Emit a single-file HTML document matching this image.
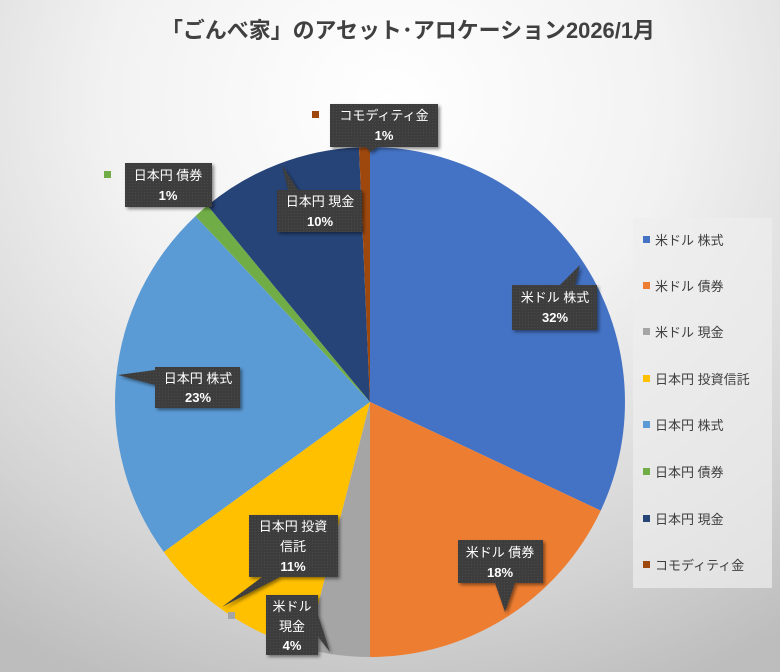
<!DOCTYPE html>
<html><head><meta charset="utf-8"><style>
body{margin:0}
.w{width:780px;height:672px;position:relative;overflow:hidden;font-family:"Liberation Sans","Noto Sans CJK JP",sans-serif;
background:radial-gradient(ellipse 90% 95% at 50% 15%,#ffffff 0%,#f2f2f2 40%,#d4d4d4 78%,#bdbdbd 100%)}
text{font-family:"Liberation Sans","Noto Sans CJK JP",sans-serif}
</style></head><body><div class="w">
<svg width="780" height="672" viewBox="0 0 780 672">
<defs>
<pattern id="dots" width="3" height="3" patternUnits="userSpaceOnUse"><rect width="3" height="3" fill="#3d3d3d"/><rect width="1" height="1" fill="#4a4a4a"/></pattern>
<filter id="sh" x="-20%" y="-20%" width="150%" height="150%"><feDropShadow dx="2" dy="2" stdDeviation="1.5" flood-opacity="0.45"/></filter>
</defs>
<text x="408" y="38" text-anchor="middle" font-size="22" font-weight="bold" fill="#404040" textLength="494" lengthAdjust="spacingAndGlyphs">「ごんべ家」のアセット･アロケーション2026/1月</text>
<g stroke="none">
<path d="M370,402 L370,147 A255,255 0 0 1 600.7,510.6 Z" fill="#4472c4"/>
<path d="M370,402 L600.7,510.6 A255,255 0 0 1 370,657 Z" fill="#ed7d31"/>
<path d="M370,402 L370,657 A255,255 0 0 1 306.6,649 Z" fill="#a5a5a5"/>
<path d="M370,402 L306.6,649 A255,255 0 0 1 163.7,551.9 Z" fill="#ffc000"/>
<path d="M370,402 L163.7,551.9 A255,255 0 0 1 195.5,216.1 Z" fill="#5b9bd5"/>
<path d="M370,402 L195.5,216.1 A255,255 0 0 1 207.5,205.5 Z" fill="#70ad47"/>
<path d="M370,402 L207.5,205.5 A255,255 0 0 1 359,147.2 Z" fill="#264478"/>
<path d="M370,402 L359,147.2 A255,255 0 0 1 370,147 Z" fill="#9e480e"/>
</g>
<rect x="312" y="111" width="7" height="7" fill="#9e480e"/>
<rect x="104" y="171" width="7" height="7" fill="#70ad47"/>
<rect x="228" y="612" width="7" height="7" fill="#a5a5a5"/>
<g filter="url(#sh)" fill="url(#dots)">
<path d="M330,104 H438 V147 H378 L370,152 L366,147 H330 Z"/>
<rect x="125" y="163" width="87" height="44"/>
<path d="M277,190 H362 V232 H277 Z M282,165 L298,190 H288 Z"/>
<path d="M512,285 H597 V330 H512 Z M580,265 L575,285 H560 Z"/>
<path d="M155,367 H240 V408 H155 Z M118,375 L155,370 V385 Z"/>
<path d="M249,515 H338 V577 H249 Z M222,607 L262,577 H280 Z"/>
<path d="M266,595 H318 V655 H266 Z M330,652 L305,620 L318,615 Z"/>
<path d="M458,540 H543 V583 H458 Z M505,612 L495,583 H515 Z"/>
</g>
<g fill="#fff" font-size="13" text-anchor="middle">
<text x="384" y="120">コモディティ金</text><text x="384" y="140" font-weight="bold">1%</text>
<text x="168" y="180">日本円 債券</text><text x="168" y="200" font-weight="bold">1%</text>
<text x="320" y="206">日本円 現金</text><text x="320" y="226" font-weight="bold">10%</text>
<text x="555" y="302">米ドル 株式</text><text x="555" y="322" font-weight="bold">32%</text>
<text x="198" y="383">日本円 株式</text><text x="198" y="402" font-weight="bold">23%</text>
<text x="293" y="531">日本円 投資</text><text x="293" y="551">信託</text><text x="293" y="571" font-weight="bold">11%</text>
<text x="292" y="611">米ドル</text><text x="292" y="631">現金</text><text x="292" y="650" font-weight="bold">4%</text>
<text x="500" y="557">米ドル 債券</text><text x="500" y="577" font-weight="bold">18%</text>
</g>
<rect x="633" y="218" width="139" height="370" fill="#eeeeee" opacity="0.7"/>
<g font-size="13" fill="#404040">
<rect x="643" y="236" width="7" height="7" fill="#4472c4"/><text x="655" y="245">米ドル 株式</text>
<rect x="643" y="282" width="7" height="7" fill="#ed7d31"/><text x="655" y="291">米ドル 債券</text>
<rect x="643" y="328" width="7" height="7" fill="#a5a5a5"/><text x="655" y="337">米ドル 現金</text>
<rect x="643" y="375" width="7" height="7" fill="#ffc000"/><text x="655" y="384">日本円 投資信託</text>
<rect x="643" y="421" width="7" height="7" fill="#5b9bd5"/><text x="655" y="430">日本円 株式</text>
<rect x="643" y="468" width="7" height="7" fill="#70ad47"/><text x="655" y="477">日本円 債券</text>
<rect x="643" y="515" width="7" height="7" fill="#264478"/><text x="655" y="524">日本円 現金</text>
<rect x="643" y="561" width="7" height="7" fill="#9e480e"/><text x="655" y="570">コモディティ金</text>
</g>
</svg></div></body></html>
